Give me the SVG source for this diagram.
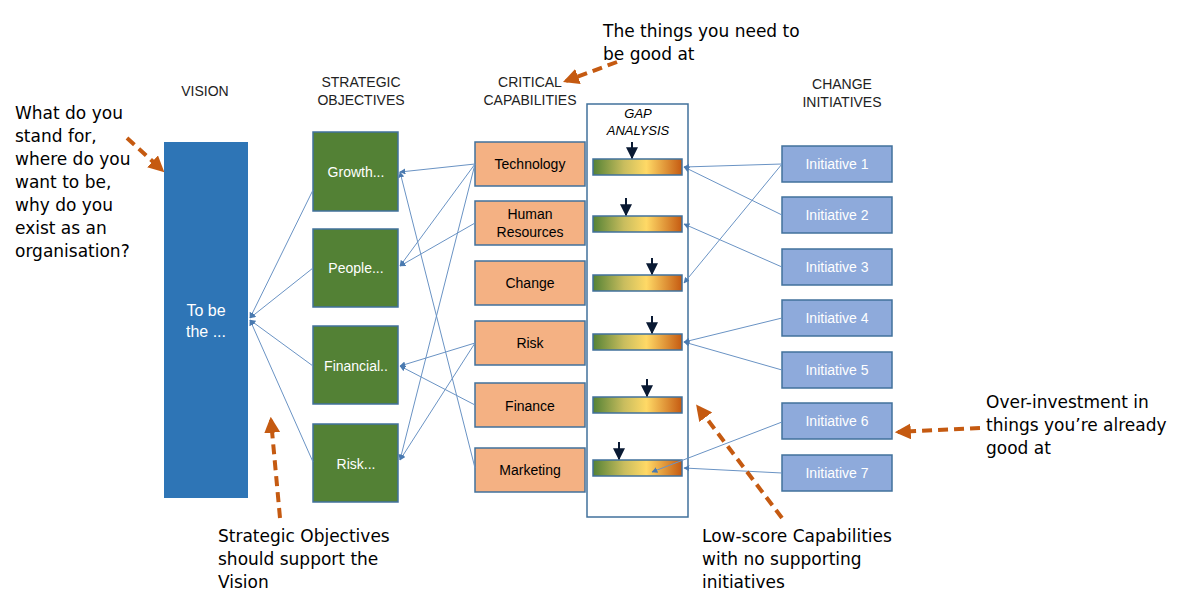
<svg xmlns="http://www.w3.org/2000/svg" width="1184" height="607" viewBox="0 0 1184 607">
<defs>
<linearGradient id="g" x1="0" x2="1" y1="0" y2="0">
<stop offset="0" stop-color="#548235"/><stop offset="0.35" stop-color="#c9bd5e"/><stop offset="0.6" stop-color="#ffd966"/><stop offset="1" stop-color="#c55a11"/>
</linearGradient>
<marker id="a" viewBox="0 0 10 10" refX="9" refY="5" markerWidth="6" markerHeight="6" orient="auto"><path d="M0,0L10,5L0,10z" fill="#4a7ab0"/></marker>
<marker id="o" viewBox="0 0 10 10" refX="8" refY="5" markerWidth="4" markerHeight="4" orient="auto"><path d="M0,0L10,5L0,10z" fill="#c55a11"/></marker>
<marker id="k" viewBox="0 0 10 10" refX="9" refY="5" markerWidth="6" markerHeight="6" orient="auto"><path d="M0,0L10,5L0,10z" fill="#0a1a33"/></marker>
</defs>
<style>
.h{font-family:"Liberation Sans",Arial,sans-serif;font-size:14px;fill:#222;text-anchor:middle}
.obj rect{fill:#538135;stroke:#41719c;stroke-width:1.5}
.obj text{font-family:"Liberation Sans",Arial,sans-serif;font-size:14px;fill:#fff;text-anchor:middle}
.cap rect{fill:#f4b183;stroke:#41719c;stroke-width:1.5}
.cap text{font-family:"Liberation Sans",Arial,sans-serif;font-size:14px;fill:#000;text-anchor:middle}
.ini rect{fill:#8eaadb;stroke:#41719c;stroke-width:1.5}
.ini text{font-family:"Liberation Sans",Arial,sans-serif;font-size:14px;fill:#fff;text-anchor:middle}
.bar{fill:url(#g);stroke:#41719c;stroke-width:1.5}
.c line{stroke:#6a93c4;stroke-width:1;marker-end:url(#a)}
.ann{font-family:"DejaVu Sans",sans-serif;font-size:17px;fill:#000}
.d{stroke:#c55a11;stroke-width:4;stroke-dasharray:10,6;fill:none;marker-end:url(#o)}
.tick{stroke:#0a1a33;stroke-width:2;marker-end:url(#k)}
</style>
<text class="h" x="205" y="96">VISION</text>
<text class="h" x="361" y="87">STRATEGIC</text><text class="h" x="361" y="105">OBJECTIVES</text>
<text class="h" x="530" y="87">CRITICAL</text><text class="h" x="530" y="105">CAPABILITIES</text>
<text class="h" x="842" y="89">CHANGE</text><text class="h" x="842" y="107">INITIATIVES</text>
<rect x="587" y="104" width="101" height="413" fill="#fff" stroke="#41719c" stroke-width="1.5"/>
<text x="638" y="118" font-family="Liberation Sans,Arial,sans-serif" font-size="13" font-style="italic" text-anchor="middle">GAP</text>
<text x="638" y="135" font-family="Liberation Sans,Arial,sans-serif" font-size="13" font-style="italic" text-anchor="middle">ANALYSIS</text>
<g id="vision"><rect x="164" y="142" width="84" height="356" fill="#2e75b6"/>
<text x="206" y="316" font-family="Liberation Sans,Arial,sans-serif" font-size="16" fill="#fff" text-anchor="middle">To be</text>
<text x="206" y="337" font-family="Liberation Sans,Arial,sans-serif" font-size="16" fill="#fff" text-anchor="middle">the ...</text></g>
<g id="o1" class="obj"><rect x="313" y="132" width="85" height="79"/><text x="356" y="177">Growth...</text></g>
<g id="o2" class="obj"><rect x="313" y="229" width="85" height="78"/><text x="356" y="273">People...</text></g>
<g id="o3" class="obj"><rect x="313" y="326" width="85" height="78"/><text x="356" y="371">Financial..</text></g>
<g id="o4" class="obj"><rect x="313" y="424" width="85" height="78"/><text x="356" y="469">Risk...</text></g>
<g id="c1" class="cap"><rect x="475" y="142" width="110" height="44"/><text x="530" y="169">Technology</text></g>
<g id="c2" class="cap"><rect x="475" y="201" width="110" height="44"/><text x="530" y="219">Human</text><text x="530" y="237">Resources</text></g>
<g id="c3" class="cap"><rect x="475" y="261" width="110" height="44"/><text x="530" y="288">Change</text></g>
<g id="c4" class="cap"><rect x="475" y="321" width="110" height="44"/><text x="530" y="348">Risk</text></g>
<g id="c5" class="cap"><rect x="475" y="383" width="110" height="44"/><text x="530" y="411">Finance</text></g>
<g id="c6" class="cap"><rect x="475" y="448" width="110" height="44"/><text x="530" y="475">Marketing</text></g>
<g id="bars">
<rect class="bar" x="593" y="159" width="89" height="16"/><line class="tick" x1="632" y1="142" x2="632" y2="158"/>
<rect class="bar" x="593" y="216" width="89" height="16"/><line class="tick" x1="626" y1="198" x2="626" y2="215"/>
<rect class="bar" x="593" y="275" width="89" height="16"/><line class="tick" x1="652" y1="258" x2="652" y2="274"/>
<rect class="bar" x="593" y="334" width="89" height="16"/><line class="tick" x1="652" y1="316" x2="652" y2="333"/>
<rect class="bar" x="593" y="397" width="89" height="16"/><line class="tick" x1="647" y1="379" x2="647" y2="396"/>
<rect class="bar" x="593" y="460" width="89" height="16"/><line class="tick" x1="619" y1="442" x2="619" y2="459"/>
</g>
<g id="i1" class="ini"><rect x="782" y="146" width="110" height="36"/><text x="837" y="169">Initiative 1</text></g>
<g id="i2" class="ini"><rect x="782" y="197" width="110" height="36"/><text x="837" y="220">Initiative 2</text></g>
<g id="i3" class="ini"><rect x="782" y="249" width="110" height="36"/><text x="837" y="272">Initiative 3</text></g>
<g id="i4" class="ini"><rect x="782" y="300" width="110" height="36"/><text x="837" y="323">Initiative 4</text></g>
<g id="i5" class="ini"><rect x="782" y="352" width="110" height="36"/><text x="837" y="375">Initiative 5</text></g>
<g id="i6" class="ini"><rect x="782" y="403" width="110" height="36"/><text x="837" y="426">Initiative 6</text></g>
<g id="i7" class="ini"><rect x="782" y="455" width="110" height="36"/><text x="837" y="478">Initiative 7</text></g>
<g id="connectors" class="c">
<line x1="313" y1="190" x2="250" y2="318"/>
<line x1="313" y1="268" x2="250" y2="318"/>
<line x1="313" y1="366" x2="250" y2="320"/>
<line x1="313" y1="462" x2="250" y2="320"/>
<line x1="475" y1="164" x2="400" y2="172"/>
<line x1="475" y1="164" x2="400" y2="266"/>
<line x1="475" y1="164" x2="400" y2="460"/>
<line x1="475" y1="223" x2="400" y2="266"/>
<line x1="475" y1="343" x2="400" y2="366"/>
<line x1="475" y1="343" x2="400" y2="460"/>
<line x1="475" y1="405" x2="400" y2="366"/>
<line x1="475" y1="468" x2="400" y2="172"/>
<line x1="782" y1="164" x2="684" y2="167"/>
<line x1="782" y1="164" x2="684" y2="283"/>
<line x1="782" y1="215" x2="684" y2="167"/>
<line x1="782" y1="267" x2="684" y2="224"/>
<line x1="782" y1="318" x2="684" y2="342"/>
<line x1="782" y1="370" x2="684" y2="342"/>
<line x1="782" y1="422" x2="652" y2="472"/>
<line x1="782" y1="473" x2="684" y2="468"/>
</g>
<g id="annotations">
<text class="ann" x="15" y="119">What do you</text>
<text class="ann" x="15" y="142">stand for,</text>
<text class="ann" x="15" y="165">where do you</text>
<text class="ann" x="15" y="188">want to be,</text>
<text class="ann" x="15" y="211">why do you</text>
<text class="ann" x="15" y="234">exist as an</text>
<text class="ann" x="15" y="257">organisation?</text>
<path class="d" d="M127,138L162,170"/>
<text class="ann" x="603" y="37">The things you need to</text>
<text class="ann" x="603" y="60">be good at</text>
<path class="d" d="M617,62L566,81"/>
<text class="ann" x="218" y="542">Strategic Objectives</text>
<text class="ann" x="218" y="565">should support the</text>
<text class="ann" x="218" y="588">Vision</text>
<path class="d" d="M280,518L271,420"/>
<text class="ann" x="702" y="542">Low-score Capabilities</text>
<text class="ann" x="702" y="565">with no supporting</text>
<text class="ann" x="702" y="588">initiatives</text>
<path class="d" d="M782,518L698,407"/>
<text class="ann" x="986" y="408">Over-investment in</text>
<text class="ann" x="986" y="431">things you’re already</text>
<text class="ann" x="986" y="454">good at</text>
<path class="d" d="M980,428L898,432"/>
</g>
</svg>
